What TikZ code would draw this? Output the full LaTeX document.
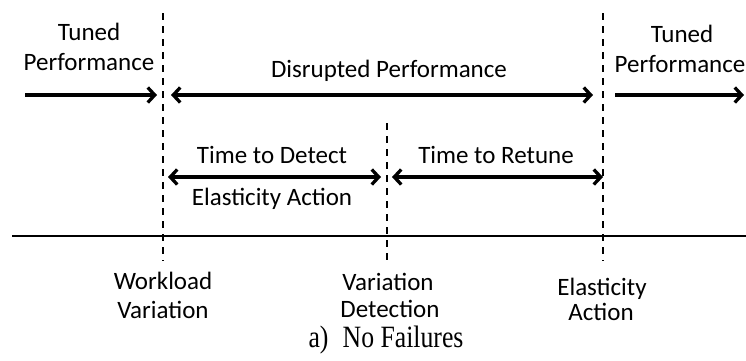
\documentclass[tikz,border=0pt]{standalone}
\usepackage{fontspec}
\setmainfont{Carlito}
\newfontfamily\capfont{Liberation Serif}
\usetikzlibrary{arrows.meta}
\begin{document}
\begin{tikzpicture}[x=1pt,y=-1pt,
  lbl/.style={font=\fontsize{25}{30}\selectfont, inner sep=0pt, anchor=base},
  vline/.style={line width=2.4pt, dash pattern=on 7pt off 6pt},
  arr/.style={line width=3.3pt, -{Straight Barb[length=7pt,width=15pt]}},
  darr/.style={line width=3.3pt, {Straight Barb[length=7pt,width=15pt]}-{Straight Barb[length=7pt,width=15pt]}},
  axisline/.style={line width=2.8pt}]
\useasboundingbox (0,0) rectangle (746,360);
% coordinates
\coordinate (v1t) at (163,13);
\coordinate (v1b) at (163,261);
\coordinate (v2t) at (387,123);
\coordinate (v2b) at (387,261);
\coordinate (v3t) at (603,13);
\coordinate (v3b) at (603,261);
\coordinate (axl) at (12,236);
\coordinate (axr) at (746,236);
\coordinate (a1s) at (25,95);
\coordinate (a1e) at (157,95);
\coordinate (a2s) at (171,95);
\coordinate (a2e) at (593,95);
\coordinate (a3s) at (615,95);
\coordinate (a3e) at (744,95);
\coordinate (a4s) at (168,177);
\coordinate (a4e) at (381,177);
\coordinate (a5s) at (392,177);
\coordinate (a5e) at (603,177);
% lines
\draw[vline] (v1t) -- (v1b);
\draw[vline] (v2t) -- (v2b);
\draw[vline] (v3t) -- (v3b);
\draw[axisline] (axl) -- (axr);
\draw[arr] (a1s) -- (a1e);
\draw[darr] (a2s) -- (a2e);
\draw[arr] (a3s) -- (a3e);
\draw[darr] (a4s) -- (a4e);
\draw[darr] (a5s) -- (a5e);
% labels
\node[lbl] (tl1) at (89,40) {Tuned};
\node[lbl] (tl2) at (89,70) {Performance};
\node[lbl] (dp) at (389,77) {Disrupted Performance};
\node[lbl] (tr1) at (682,42) {Tuned};
\node[lbl] (tr2) at (680,72) {Performance};
\node[lbl] (td1) at (272,163) {Time to Detect};
\node[lbl] (td2) at (272,205) {Elasticity Action};
\node[lbl] (rt) at (496,163) {Time to Retune};
\node[lbl] (wv1) at (163,289) {Workload};
\node[lbl] (wv2) at (163,318) {Variation};
\node[lbl] (vd1) at (388,290) {Variation};
\node[lbl] (vd2) at (390,317) {Detection};
\node[lbl] (ea1) at (602,295) {Elasticity};
\node[lbl] (ea2) at (601,320) {Action};
\node[inner sep=0pt, anchor=base] (cap) at (386,347) {\scalebox{0.83}[1]{\capfont\fontsize{31}{34}\selectfont a)\hspace{0.55em}No Failures}};
\end{tikzpicture}
\end{document}
